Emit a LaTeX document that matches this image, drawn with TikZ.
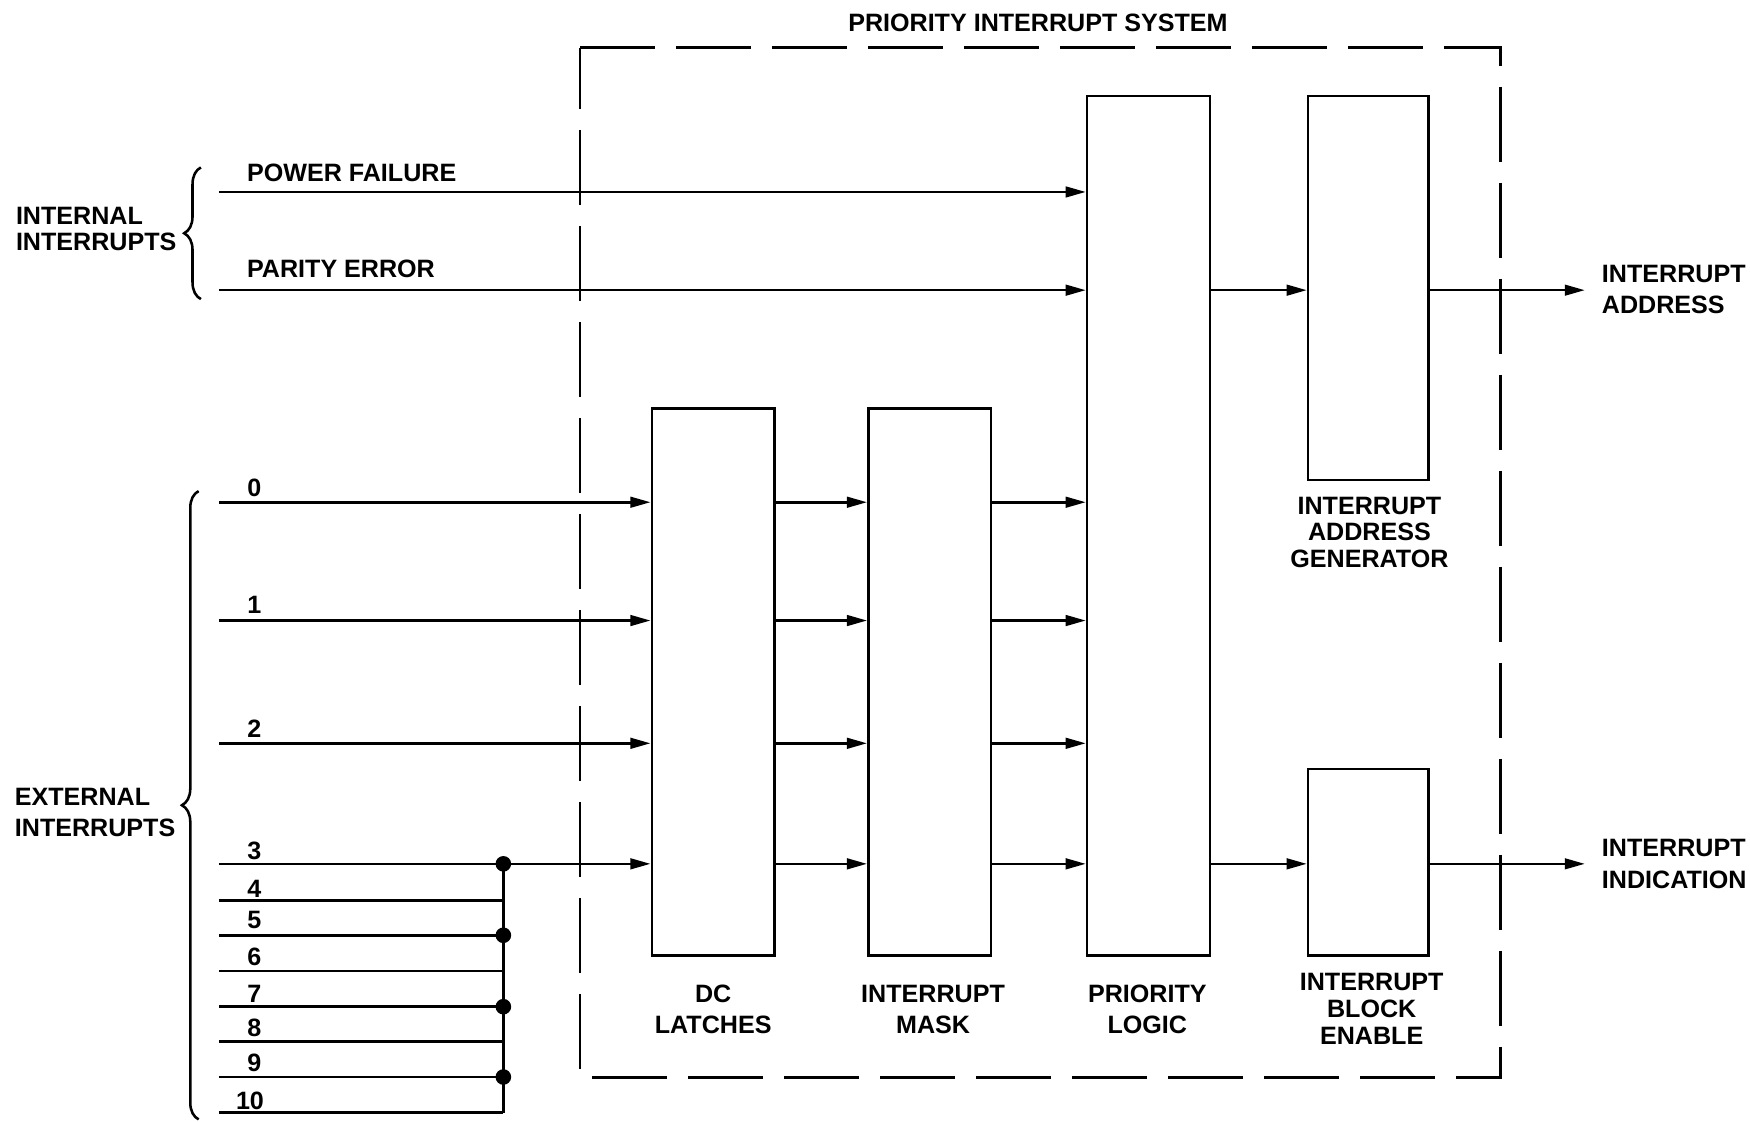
\documentclass[tikz,border=0pt]{standalone}
\usepackage{fontspec}
\setmainfont{Liberation Sans}
\usetikzlibrary{arrows.meta,decorations.pathreplacing}
\newcommand{\lblfont}[1]{\fontsize{12.8}{#1}\selectfont\bfseries}
\begin{document}
\begin{tikzpicture}[x=0.2mm,y=-0.2mm,
  font=\lblfont{15.9pt},
  wire/.style={line width=1.3pt},
  sig/.style={wire,-{Triangle[length=3.6mm,width=1.9mm]}},
  block/.style={draw,line width=1.3pt,minimum width=22mm,inner sep=0},
  frame/.style={line width=1.3pt,dash pattern=on 13.4mm off 3.8mm},
  lbl/.style={inner sep=0,align=center,anchor=north},
  side/.style={inner sep=0,align=left,anchor=north west},
  num/.style={inner sep=0,anchor=base},
  dot/.style={circle,fill,inner sep=0,minimum size=2.8mm},
  curly/.style={wire,decorate,decoration={brace,amplitude=3mm,aspect=0.5}}]
\useasboundingbox (0,0) rectangle (1568,1005);

% system frame and title
\node[inner sep=0,minimum width=164.8mm,minimum height=184.4mm] (sys) at (932,504) {};
\draw[frame] (sys.north west) -- (sys.north east) -- (sys.south east)
  -- (sys.south west) -- cycle;
\node[num] (title) at (930,28) {PRIORITY INTERRUPT SYSTEM};

% functional blocks
\node[block,minimum height=98mm] (dc) at (639,611) {};
\node[block,minimum height=98mm] (mask) at (833,611) {};
\node[block,minimum height=154mm] (pl) at (1029,471) {};
\node[block,minimum width=21.6mm,minimum height=68.8mm] (iag) at (1226,258) {};
\node[block,minimum width=21.6mm,minimum height=33.4mm] (ibe) at (1226,772.5) {};

% block captions
\node[lbl] (dcl) at (639,882) {DC\\LATCHES};
\node[lbl] (maskl) at (836,882) {INTERRUPT\\MASK};
\node[lbl] (pll) at (1028,882) {PRIORITY\\LOGIC};
\node[lbl,font=\lblfont{13.6pt}] (iagl) at (1227,445) {INTERRUPT\\ADDRESS\\GENERATOR};
\node[lbl,font=\lblfont{13.6pt}] (ibel) at (1229,872) {INTERRUPT\\BLOCK\\ENABLE};

% input line origins
\coordinate (pf) at (196,172);
\coordinate (pe) at (196,260);
\coordinate (e0) at (196,450);
\coordinate (e1) at (196,556);
\coordinate (e2) at (196,666);
\coordinate (e3) at (196,774);
\coordinate (e4) at (196,807);
\coordinate (e5) at (196,838);
\coordinate (e6) at (196,870);
\coordinate (e7) at (196,902);
\coordinate (e8) at (196,933);
\coordinate (e9) at (196,965);
\coordinate (e10) at (196,997);
\coordinate (tap) at (451,774);
\coordinate (oa) at (1420,260);
\coordinate (oi) at (1420,774);

% internal interrupts
\draw[sig] (pf) -- (pf -| pl.west);
\draw[sig] (pe) -- (pe -| pl.west);
\node[num,anchor=base west] (pfl) at (221,163) {POWER FAILURE};
\node[num,anchor=base west] (pel) at (221,249) {PARITY ERROR};

% external interrupts through latches and mask
\foreach \i in {0,1,2,3} {
  \draw[sig] (e\i) -- (e\i -| dc.west);
  \draw[sig] (e\i -| dc.east) -- (e\i -| mask.west);
  \draw[sig] (e\i -| mask.east) -- (e\i -| pl.west);
}
% lines 4..10 tied onto line 3
\foreach \i in {4,...,10} \draw[wire] (e\i) -- (e\i -| tap);
\draw[wire] (tap) -- (tap |- e10);
\foreach \i in {3,5,7,9} \node[dot] (d\i) at (e\i -| tap) {};

% line numbers
\node[num] (n0) at (228,445) {0};
\node[num] (n1) at (228,550) {1};
\node[num] (n2) at (228,661) {2};
\node[num] (n3) at (228,770) {3};
\node[num] (n4) at (228,804) {4};
\node[num] (n5) at (228,832) {5};
\node[num] (n6) at (228,865) {6};
\node[num] (n7) at (228,898) {7};
\node[num] (n8) at (228,929) {8};
\node[num] (n9) at (228,960) {9};
\node[num] (n10) at (224,994) {10};

% outputs
\draw[sig] (pl.east |- oa) -- (iag.west |- oa);
\draw[sig] (iag.east |- oa) -- (oa);
\draw[sig] (pl.east |- oi) -- (ibe.west |- oi);
\draw[sig] (ibe.east |- oi) -- (oi);
\node[side] (oal) at (1435,237) {INTERRUPT\\ADDRESS};
\node[side] (oil) at (1435,752) {INTERRUPT\\INDICATION};

% group braces
\draw[curly] (180,268) -- (180,150);
\draw[curly] (178,1003) -- (178,440);
\node[side,font=\lblfont{13.6pt}] (intl) at (14,185) {INTERNAL\\INTERRUPTS};
\node[side] (extl) at (13,706) {EXTERNAL\\INTERRUPTS};
\end{tikzpicture}
\end{document}
